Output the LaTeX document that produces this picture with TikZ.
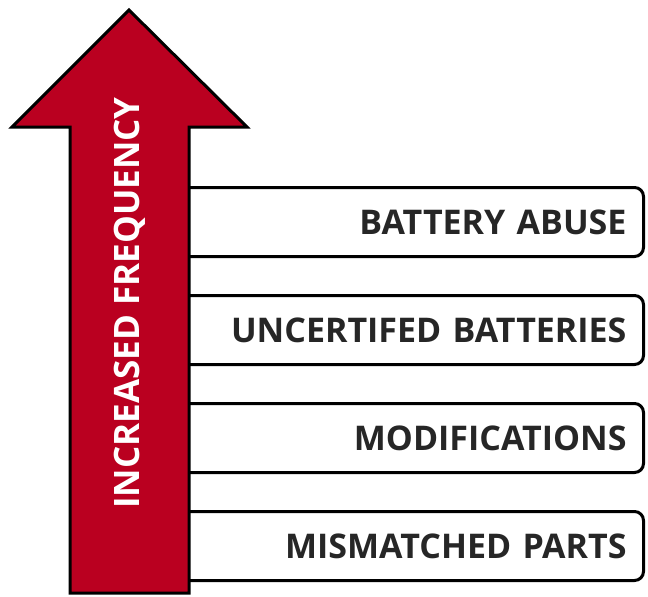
\documentclass[tikz,border=0pt]{standalone}
\usepackage{fontspec}
\setmainfont{Open Sans}
\usepackage{tikz}
\usetikzlibrary{positioning}
\definecolor{arrowred}{RGB}{186,0,32}

\begin{document}
\begin{tikzpicture}[x=1pt,y=-1pt,
	cause/.style={draw=black, line width=3pt, rounded corners=9pt, fill=white,
		minimum height=69pt, text width=458pt, align=right, inner xsep=17pt,
		font=\fontsize{34}{34}\selectfont\bfseries, text=black!85}]
		\useasboundingbox (0,0) rectangle (648,597);
		
		% les boites, de haut en bas
		\node[cause, anchor=north west] (abuse) at (150,186) {BATTERY ABUSE};
		\node[cause, below = 36pt of abuse] (uncert) {UNCERTIFED BATTERIES};
		\node[cause, below = 36pt of uncert] (modif) {MODIFICATIONS};
		\node[cause, below = 36pt of modif] (parts) {MISMATCHED PARTS};
		
		% la grosse fleche
		\coordinate (tip) at (129,10);
		\draw[fill=arrowred, line width=3pt, line join=miter]
			(tip) -- (247,127) -- (189,127) -- (189,593) -- (70,593) -- (70,127) -- (12,127) -- cycle;
		
		\node[rotate=90, text=white, font=\fontsize{35}{35}\selectfont\bfseries] (freq) at (130,303) {INCREASED FREQUENCY};
	\end{tikzpicture}
\end{document}
